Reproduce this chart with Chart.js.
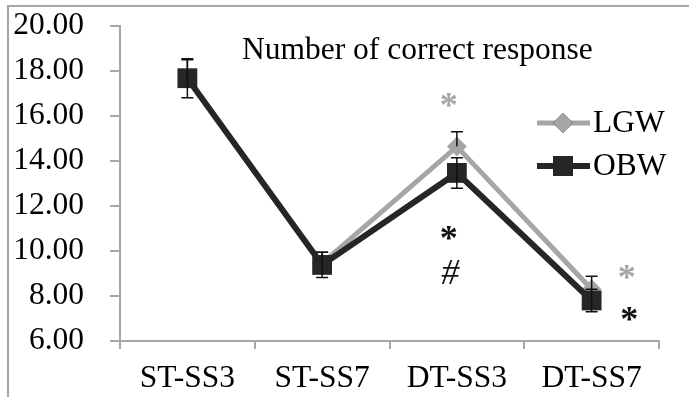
<!DOCTYPE html>
<html>
<head>
<meta charset="utf-8">
<script src="https://cdn.jsdelivr.net/npm/chart.js@4/dist/chart.umd.min.js"></script>
<style>
  html, body { margin: 0; padding: 0; background: #fff; }
  #wrap { position: relative; width: 689px; height: 397px; overflow: hidden; }
  #frame { position: absolute; left: 7px; top: 5px; width: 700px; height: 400px;
           border-left: 2px solid #a6a6a6; border-top: 2px solid #a6a6a6; }
  canvas { position: absolute; left: 0; top: 0; }
</style>
</head>
<body>
<div id="wrap">
  <div id="frame"></div>
  <canvas id="c" width="689" height="397"></canvas>
</div>
<script>
// Task conditions and group means with their standard errors
const categories = ['ST-SS3', 'ST-SS7', 'DT-SS3', 'DT-SS7'];
const lgwMeans = [17.65, 9.45, 14.64, 8.30];
const lgwErrors = [0.85, 0.50, 0.66, 0.58];
const obwMeans = [17.68, 9.38, 13.47, 7.80];
const obwErrors = [0.87, 0.56, 0.68, 0.50];
const yTicks = [6, 8, 10, 12, 14, 16, 18, 20];

// Significance marks: [category position, value, text, colour]
const marks = [
  [1.94, 16.70, '*', '#a6a6a6'],
  [1.94, 10.76, '*', '#111111'],
  [1.95, 8.95, '#', '#111111'],
  [3.26, 9.02, '*', '#a6a6a6'],
  [3.28, 7.16, '*', '#111111']
];

const FONT = "'Liberation Serif', 'Times New Roman', serif";
const GRAY = '#a6a6a6';
const DARK = '#262626';

const errorBars = {
  id: 'errorBars',
  afterDatasetsDraw(chart) {
    const ctx = chart.ctx;
    const y = chart.scales.y;
    ctx.save();
    ctx.strokeStyle = '#111';
    ctx.lineWidth = 1.5;
    chart.data.datasets.forEach((ds, i) => {
      const meta = chart.getDatasetMeta(i);
      meta.data.forEach((pt, j) => {
        const m = ds.data[j], e = ds.errors[j];
        const yt = y.getPixelForValue(m + e);
        const yb = y.getPixelForValue(ds.upperOnly ? m : m - e);
        ctx.beginPath();
        ctx.moveTo(pt.x, yt); ctx.lineTo(pt.x, yb);
        ctx.moveTo(pt.x - 6, yt); ctx.lineTo(pt.x + 6, yt);
        if (!ds.upperOnly) { ctx.moveTo(pt.x - 6, yb); ctx.lineTo(pt.x + 6, yb); }
        ctx.stroke();
      });
    });
    ctx.restore();
  }
};

const extras = {
  id: 'extras',
  afterDraw(chart) {
    const ctx = chart.ctx;
    const xs = chart.scales.x, ys = chart.scales.y;
    ctx.save();
    // title
    ctx.fillStyle = '#000';
    ctx.font = '31.5px ' + FONT;
    ctx.textAlign = 'left';
    ctx.textBaseline = 'alphabetic';
    ctx.fillText('Number of correct response', 242, 59);

    // legend
    const rows = [[0, 123], [1, 166]];
    rows.forEach(([i, ly]) => {
      const ds = chart.data.datasets[i];
      ctx.strokeStyle = ds.borderColor;
      ctx.lineWidth = ds.borderWidth;
      ctx.beginPath(); ctx.moveTo(537, ly); ctx.lineTo(590, ly); ctx.stroke();
      Chart.helpers.drawPoint(ctx, {
        pointStyle: ds.pointStyle, radius: ds.pointRadius, borderWidth: 0
      }, 563, ly);
      ctx.fillStyle = ds.pointBackgroundColor;
      ctx.fill();
      ctx.fillStyle = '#000';
      ctx.font = '31.5px ' + FONT;
      ctx.textBaseline = 'middle';
      ctx.fillText(ds.label, 593, ly + 1);
    });

    // significance marks
    ctx.textAlign = 'center';
    ctx.textBaseline = 'middle';
    marks.forEach(([cx, v, t, col]) => {
      const base = xs.getPixelForValue(Math.floor(cx));
      const step = xs.getPixelForValue(1) - xs.getPixelForValue(0);
      const px = base + (cx - Math.floor(cx)) * step;
      ctx.fillStyle = col;
      if (t === '*') {
        ctx.font = 'bold 36px ' + FONT;
        ctx.fillText(t, px, ys.getPixelForValue(v) + 7);
      } else {
        ctx.font = 'italic 36px ' + FONT;
        ctx.fillText(t, px, ys.getPixelForValue(v));
      }
    });
    ctx.restore();
  }
};

new Chart(document.getElementById('c'), {
  type: 'line',
  data: {
    labels: categories,
    datasets: [
      {
        label: 'LGW', data: lgwMeans, errors: lgwErrors, upperOnly: true, order: 2,
        borderColor: GRAY, borderWidth: 5,
        pointStyle: 'rectRot', pointRadius: 10, pointBorderWidth: 0,
        pointBackgroundColor: GRAY, pointHoverRadius: 10
      },
      {
        label: 'OBW', data: obwMeans, errors: obwErrors, upperOnly: false, order: 1,
        borderColor: DARK, borderWidth: 6,
        pointStyle: 'rect', pointRadius: 14, pointBorderWidth: 0,
        pointBackgroundColor: DARK, pointHoverRadius: 14
      }
    ]
  },
  options: {
    responsive: false,
    animation: false,
    events: [],
    layout: { padding: { top: 26, right: 30, left: 0, bottom: 0 } },
    plugins: { legend: { display: false }, tooltip: { enabled: false } },
    scales: {
      x: {
        offset: true,
        grid: { offset: true, drawOnChartArea: false, drawTicks: true, tickLength: 8,
                color: GRAY, lineWidth: 2 },
        border: { color: GRAY, width: 2 },
        ticks: { color: '#000', font: { family: FONT, size: 31.5 }, padding: 11 },
        afterFit(s) { s.height = 56; s.paddingLeft = 0; s.paddingRight = 0; }
      },
      y: {
        min: 6, max: 20,
        afterBuildTicks(s) { s.ticks = yTicks.map(v => ({ value: v })); },
        grid: { drawOnChartArea: false, drawTicks: true, tickLength: 10,
                color: GRAY, lineWidth: 2 },
        border: { color: GRAY, width: 2 },
        ticks: { color: '#000', font: { family: FONT, size: 31.5 }, padding: 26,
                 callback: v => v.toFixed(2) },
        afterFit(s) { s.width = 120; s.paddingTop = 0; s.paddingBottom = 0; }
      }
    }
  },
  plugins: [errorBars, extras]
});
</script>
</body>
</html>
